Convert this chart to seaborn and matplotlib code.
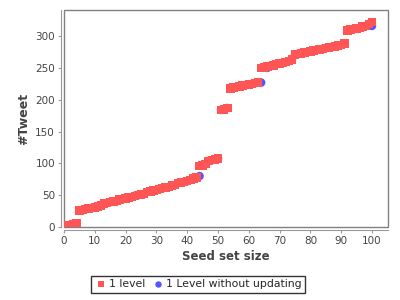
import seaborn as sns
import matplotlib.pyplot as plt
import pandas as pd

# seed set size 1..100
seed_size = list(range(1, 101))

one_level = [
    2, 3, 5, 6,
    26, 27, 28, 29, 30, 31, 32, 34, 37, 38, 39, 40, 41, 43, 44, 45,
    46, 47, 49, 50, 51, 52, 55, 56, 57, 58, 60, 61, 62, 63, 65, 66,
    69, 70, 71, 72, 74, 76, 78,
    96, 97, 99, 104, 105, 106, 108,
    184, 185, 187,
    218, 219, 220, 221, 222, 223, 224, 225, 226, 227,
    250, 251, 252, 253, 254, 256, 257, 258, 259, 261, 263,
    271, 272, 273, 274, 275, 276, 277, 278, 279, 280, 281, 282, 283, 284, 285, 286, 288,
    309, 310, 311, 312, 313, 315, 316, 319, 322,
]

# without updating: same run except a few lagging points
no_update = list(one_level)
no_update[43] = 80    # x=44
no_update[63] = 227   # x=64
no_update[65] = 250   # x=66
no_update[99] = 316   # x=100

SERIES = ['1 level', '1 Level without updating']
COLORS = {'1 level': '#FF5555', '1 Level without updating': '#5555FF'}
MARKERS = {'1 level': 's', '1 Level without updating': 'o'}

# blue rows first so the red squares sit on top
df = pd.concat([
    pd.DataFrame({'size': seed_size, 'tweets': no_update, 'series': SERIES[1]}),
    pd.DataFrame({'size': seed_size, 'tweets': one_level, 'series': SERIES[0]}),
], ignore_index=True)

sns.set_theme(style='white')
plt.rcParams['font.family'] = ['DejaVu Sans']

fig = plt.figure(figsize=(4, 3), dpi=100)
ax = fig.add_axes([0.16, 0.2433, 0.81, 0.7234])

sns.scatterplot(data=df, x='size', y='tweets', hue='series', style='series',
                hue_order=SERIES, style_order=SERIES, palette=COLORS, markers=MARKERS,
                s=38, linewidth=0, ax=ax)

ax.set_xlim(0, 105.2)
ax.set_ylim(0, 341)
ax.set_xticks(range(0, 101, 10))
ax.set_yticks(range(0, 301, 50))

ax.set_xlabel('Seed set size', fontsize=8.5, fontweight='bold', color='#444444', labelpad=3)
ax.set_ylabel('#Tweet', fontsize=9, fontweight='bold', color='#444444', labelpad=4)
ax.tick_params(axis='both', labelsize=7.5, labelcolor='#444444', color='#999999',
               length=2, width=0.8, direction='out', pad=2, bottom=True, left=True)

# plot border plus axis lines offset a little outward
ax.patch.set_edgecolor('#808080')
ax.patch.set_linewidth(1)
ax.spines['top'].set_visible(False)
ax.spines['right'].set_visible(False)
for side in ['left', 'bottom']:
    ax.spines[side].set_position(('outward', 2.5))
    ax.spines[side].set_color('#999999')
    ax.spines[side].set_linewidth(0.8)

handles, labels = ax.get_legend_handles_labels()
ax.get_legend().remove()
leg = fig.legend(handles, labels, loc='lower center', bbox_to_anchor=(0.495, 0.005),
                 ncol=2, fontsize=7.8, frameon=True, fancybox=False, borderpad=0.35,
                 handletextpad=0.1, columnspacing=0.6, handlelength=1.2, markerscale=0.75)
leg.get_frame().set_edgecolor('black')
leg.get_frame().set_linewidth(1)

fig.savefig('out.png', dpi=100)
